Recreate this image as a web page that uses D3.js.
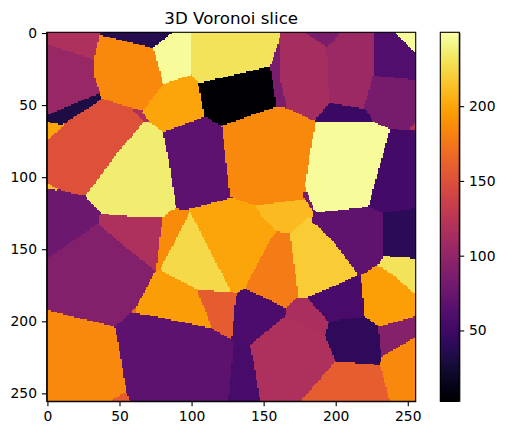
<!DOCTYPE html>
<html><head><meta charset="utf-8">
<script src="https://cdnjs.cloudflare.com/ajax/libs/d3/7.8.5/d3.min.js"></script>
<style>html,body{margin:0;padding:0;background:#fff}svg{display:block}text{font-family:"DejaVu Sans",sans-serif;fill:#000}</style>
</head><body><div id="c"></div>
<script>
const titleText = "3D Voronoi slice";
const axisTicks = [0,50,100,150,200,250];
const colorbarTicks = [50,100,150,200];
const gridSize = 256;
const valueRange = [2.6,249.4];
// value of each Voronoi cell, read against the colour bar
const cellValues = [118,104,32,36,185,246,231,200,3,68,151,200,212,118,236,77,118,91,186,226,200,158,196,165,68,185,158,55,58,118,116,178,210,219,70,40,231,197,56,42,93,185,159,113,86,106,86,47,61,246,84,118,246,53,185,86];
// outline of each cell in image (column,row) coordinates
const cellOutlines = [
[[-1,-1],[36,-1],[32.3,18.7],[-1,7.6]],
[[-1,7.6],[32.3,18.7],[36,41.8],[18,48.8],[-1,57.3]],
[[-1,57.3],[36,41.8],[37.6,45.3],[8.7,63.4],[-1,61.5]],
[[36,-1],[87.4,-1],[72.3,10.2],[36.5,1.4]],
[[36,1.4],[72.3,10.2],[80.4,35.6],[65.4,53.4],[37.6,45.3],[32.3,29],[32.3,18.7]],
[[87.4,-1],[99.6,-1],[99.6,28.7],[80.4,35.6],[73.5,10.2]],
[[99.6,-1],[161.4,-1],[154.4,23.3],[104.7,34.9],[100,28.7]],
[[80.4,35.6],[100,28.7],[104.7,34.9],[108.9,57.3],[80.4,68.9],[65.4,55]],
[[104.7,34.9],[153.4,23.3],[159,51],[119.8,64.3],[108.9,57.3]],
[[80.4,68.9],[108.9,58],[120.9,64.3],[127.8,114.2],[96.6,122],[89.2,120.5],[83.9,87]],
[[-1,74.9],[8.7,66.1],[37.6,45.8],[59.6,52.7],[66.6,61.5],[48,82.3],[26,112.9],[8.7,107.8],[-1,104]],
[[-1,61.5],[12.2,63.8],[-1,74.9]],
[[-1,104],[8.7,109],[-1,108]],
[[58.5,52.7],[65.4,53.4],[68.4,61.5],[66.6,61.5]],
[[66.6,61.5],[80.4,68.9],[83.9,87],[89.2,120.5],[80,127.4],[47,126.3],[35.3,122.8],[26,112.9]],
[[-1,108],[26,113],[35.3,122.8],[37,128.6],[34.2,132],[-1,156.3]],
[[35.3,126.3],[80,127.9],[77.6,144.8],[75.3,165.6],[55,149.4],[35.3,132.5]],
[[-1,157],[34.6,132.5],[74.6,164.9],[61.9,188.7],[60,193],[57.8,193.3],[46.9,203.8],[-1,192.2]],
[[80,127.9],[86.2,122.8],[98.9,122],[100,124],[78,164.4],[75.3,165.6],[77.6,144.8]],
[[98.9,124],[126.7,178.3],[103.5,177.8],[78,164.4]],
[[98.9,122],[127.8,114.2],[144.5,119.8],[148,126],[159,137.8],[137,178.3],[131.3,180.6],[126.7,178],[98.9,124]],
[[103.5,178],[131.3,180.6],[130,188.7],[127.8,212.5],[125.5,212.6],[114,204.9]],
[[74.6,165.6],[78,164.4],[103.5,177.8],[110.5,194.5],[114,205],[82.7,199.1],[61.9,194.5],[61.9,189.9]],
[[57.8,193.3],[61.5,189.9],[61,193.4]],
[[46.9,203.8],[57.8,194],[70,195.7],[114,204.9],[127.8,213],[129,222.3],[125.5,245.4],[125.5,256],[57.3,256],[53.8,244.2],[50.4,222.3]],
[[-1,192.2],[46.9,203.8],[50.4,222.3],[53.8,248.9],[42.3,256],[-1,256]],
[[42.3,256],[54.5,248.9],[57.3,256]],
[[129,217.2],[140.5,216.5],[147.5,256],[125.5,256]],
[[131.3,180.6],[137,177.2],[166,191],[164.8,196.4],[140.5,216.5],[129,216.5],[127.8,212.5],[130,188.7]],
[[140.5,216.5],[164.8,196.4],[192.6,209.5],[199.5,228],[175.2,256],[147.5,256],[142.9,226.9]],
[[166,191],[172.9,183.4],[178.7,183.4],[195.4,200.3],[192.6,209.5],[164.8,196.4]],
[[159,137.8],[168.3,139],[174,180.6],[172.9,183.4],[166,191],[137,177.2],[154.4,143.6]],
[[144.5,119.8],[178.7,115],[184.5,125],[183,127.9],[168.3,138.5],[159,137.8],[148,126]],
[[168.3,139],[181,127.9],[183.8,130.9],[199.5,146],[215.7,166.7],[179.9,183.4],[174,183.4]],
[[184.5,125],[222.7,120.5],[233,125],[233,151.7],[230.8,157.5],[215.7,168],[199.5,146],[183.8,130.9]],
[[233,125],[256,121.2],[256,156.3],[233,154.7]],
[[233,154.7],[256,156.3],[256,181.8],[241.2,169],[230.8,162]],
[[217.6,169],[230.8,162],[241.2,169],[256,181.8],[256,196.4],[230.8,203.3],[220.3,196.8]],
[[179.9,183.4],[215.7,169],[217.6,169],[219,196.8],[201.8,199.1],[195.4,200.7]],
[[195.4,200.7],[201.8,199.1],[219,196.8],[229.6,203.8],[232,224.6],[230.8,230.4],[199.5,227.4],[192.6,209.5]],
[[229.6,203.8],[256,196.4],[256,210.7],[231.4,224.6]],
[[230.8,230.4],[231.4,224.6],[256,210.7],[256,256],[237.7,256]],
[[199.5,228],[230.8,230.4],[237.7,256],[175.2,256]],
[[161.4,-1],[177.6,-1],[193.7,9.5],[195.4,47.6],[185.7,60.4],[179.9,58],[166,52.3],[161.4,31.4]],
[[177.6,-1],[203,-1],[199.5,4.8],[193.7,9.5]],
[[203,-1],[226.1,-1],[226.1,30.3],[219.9,50],[218,52.3],[197.2,48.8],[195.4,46.5],[193.7,9.5],[199.5,4.8]],
[[160.2,8.3],[154.4,23.3],[159,51],[166,52.3],[161.4,31.4]],
[[195.4,48.8],[197.2,48.8],[218,52.3],[226.1,61.5],[207.6,62],[186.1,62],[185.7,60.4]],
[[226.1,-1],[240,-1],[256,14],[256,32.6],[226.1,29.6]],
[[186.1,62],[227.3,61.5],[237.7,66.6],[231.9,87],[222.7,120.5],[194.9,123],[186.8,124],[178.7,105.5],[182.2,83.5]],
[[226.1,29.6],[256,32.6],[256,61.5],[250.4,66.6],[237.7,66.6],[226.1,61.5],[219.9,50]],
[[256,61.5],[256,68],[250.4,66.6]],
[[240,-1],[256,-1],[256,14]],
[[237.7,66.6],[256,68],[256,121.2],[233,125],[222.7,120.5],[231.9,87]],
[[120.9,64.3],[159,51],[166,52.3],[186.1,62],[182.2,83.5],[178.7,105.5],[178.7,115],[144.5,119.8],[130,114.7],[126.7,113]],
[[176.9,112.7],[178.7,109.5],[184.5,124],[178.7,115]]
];

const W=505,H=435;
const svg=d3.select("#c").append("svg").attr("width",W).attr("height",H);
const plot={l:46.7,t:32.3,s:369};
const x=d3.scaleLinear().domain([-0.5,gridSize-0.5]).range([plot.l,plot.l+plot.s]);
const y=d3.scaleLinear().domain([-0.5,gridSize-0.5]).range([plot.t,plot.t+plot.s]);
const color=d3.scaleSequential(d3.interpolateInferno).domain(valueRange);

// rasterise outlines to the image grid (later outlines win)
const grid=d3.range(gridSize).map(()=>new Array(gridSize).fill(null));
cellOutlines.forEach((poly,i)=>{
  const xs=poly.map(p=>p[0]),ys=poly.map(p=>p[1]);
  const r0=Math.max(0,Math.floor(d3.min(ys))),r1=Math.min(gridSize-1,Math.ceil(d3.max(ys)));
  const c0=Math.max(0,Math.floor(d3.min(xs))),c1=Math.min(gridSize-1,Math.ceil(d3.max(xs)));
  for(let r=r0;r<=r1;r++)for(let c=c0;c<=c1;c++){
    if(d3.polygonContains(poly,[c,r]))grid[r][c]=cellValues[i];
  }
});
// close hairline gaps between outlines
for(let pass=0;pass<12;pass++){
  let gaps=0;
  const snap=grid.map(r=>r.slice());
  for(let r=0;r<gridSize;r++)for(let c=0;c<gridSize;c++){
    if(snap[r][c]!==null)continue;
    gaps++;
    const n=[[r,c-1],[r-1,c],[r,c+1],[r+1,c]].find(([a,b])=>a>=0&&b>=0&&a<gridSize&&b<gridSize&&snap[a][b]!==null);
    if(n)grid[r][c]=snap[n[0]][n[1]];
  }
  if(!gaps)break;
}
// merge equal neighbours in each row into runs
const runs=[];
grid.forEach((row,r)=>{
  let s=0;
  for(let c=1;c<=gridSize;c++){
    if(c===gridSize||row[c]!==row[s]){runs.push({r,c0:s,c1:c-1,v:row[s]});s=c;}
  }
});
svg.append("g").attr("shape-rendering","crispEdges").selectAll("rect").data(runs).join("rect")
  .attr("x",d=>x(d.c0-0.5)).attr("y",d=>y(d.r-0.5))
  .attr("width",d=>x(d.c1+0.5)-x(d.c0-0.5)).attr("height",d=>y(d.r+0.5)-y(d.r-0.5)+0.3)
  .attr("fill",d=>color(d.v));

function style(g){
  g.selectAll("text").attr("font-size","13.89px").attr("font-family","DejaVu Sans").attr("fill","#000");
  g.selectAll("line").attr("stroke","#000").attr("stroke-width",1.1);
  g.select(".domain").attr("stroke","#000").attr("stroke-width",1.1);
}
const ax=d3.axisBottom(x).tickValues(axisTicks).tickSize(4.9).tickPadding(4.8).tickSizeOuter(0);
svg.append("g").attr("transform",`translate(0,${plot.t+plot.s})`).call(ax).call(style);
const ay=d3.axisLeft(y).tickValues(axisTicks).tickSize(4.9).tickPadding(4.8).tickSizeOuter(0);
svg.append("g").attr("transform",`translate(${plot.l},0)`).call(ay).call(style);
svg.append("rect").attr("x",plot.l).attr("y",plot.t).attr("width",plot.s).attr("height",plot.s)
  .attr("fill","none").attr("stroke","#000").attr("stroke-width",1.1);

svg.append("text").attr("x",plot.l+plot.s/2).attr("y",24).attr("text-anchor","middle")
  .attr("font-size","16.67px").text(titleText);

// colour bar
const bar={l:440.3,w:19};
const cy=d3.scaleLinear().domain(valueRange).range([plot.t+plot.s,plot.t]);
const levels=d3.range(256).map(i=>valueRange[0]+(valueRange[1]-valueRange[0])*i/256);
const step=(valueRange[1]-valueRange[0])/256;
svg.append("g").attr("shape-rendering","crispEdges").selectAll("rect").data(levels).join("rect")
  .attr("x",bar.l).attr("width",bar.w)
  .attr("y",d=>cy(d+step)).attr("height",d=>cy(d)-cy(d+step)+0.4)
  .attr("fill",d=>color(d+step/2));
const ac=d3.axisRight(cy).tickValues(colorbarTicks).tickSize(4.9).tickPadding(4.8).tickSizeOuter(0);
svg.append("g").attr("transform",`translate(${bar.l+bar.w},0)`).call(ac).call(style);
svg.append("rect").attr("x",bar.l).attr("y",plot.t).attr("width",bar.w).attr("height",plot.s)
  .attr("fill","none").attr("stroke","#000").attr("stroke-width",1.1);
</script></body></html>
